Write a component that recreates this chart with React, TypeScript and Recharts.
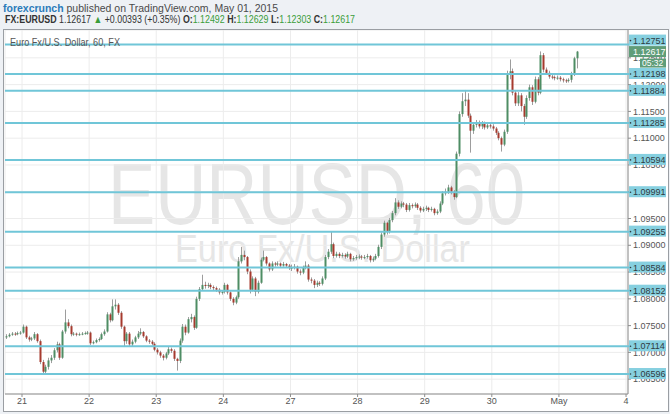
import React from 'react'
import { ComposedChart, Bar, XAxis, YAxis, CartesianGrid, ReferenceLine } from 'recharts'

// EUR/USD hourly candles, Apr 20 (last hours) .. May 1, 2015
const firstOpen = 1.0728

const closes = [
  // Apr 20
  1.0730, 1.0733, 1.0735, 1.0734, 1.0736, 1.0737,
  // Apr 21
  1.0748, 1.0728, 1.0724, 1.0726, 1.0734, 1.0721, 1.0682, 1.0664, 1.0673, 1.0685, 1.0690, 1.0704,
  1.0715, 1.0690, 1.0739, 1.0756, 1.0749, 1.0734, 1.0735, 1.0733, 1.0734, 1.0735, 1.0736, 1.0737,
  // Apr 22
  1.0717, 1.0719, 1.0723, 1.0725, 1.0734, 1.0739, 1.0771, 1.0760, 1.0786, 1.0789, 1.0774, 1.0748,
  1.0721, 1.0735, 1.0715, 1.0720, 1.0728, 1.0735, 1.0738, 1.0730, 1.0722, 1.0720, 1.0716, 1.0705,
  // Apr 23
  1.0700, 1.0694, 1.0690, 1.0698, 1.0706, 1.0703, 1.0688, 1.0684, 1.0722, 1.0748, 1.0737, 1.0762,
  1.0766, 1.0746, 1.0800, 1.0818, 1.0826, 1.0824, 1.0826, 1.0822, 1.0820, 1.0817, 1.0812, 1.0813,
  // Apr 24
  1.0826, 1.0812, 1.0800, 1.0793, 1.0803, 1.0870, 1.0882, 1.0878, 1.0851, 1.0817, 1.0838, 1.0813,
  1.0830, 1.0873, 1.0878, 1.0866, 1.0855, 1.0866, 1.0864, 1.0866, 1.0862, 1.0865, 1.0862, 1.0858,
  // Apr 27
  1.0858, 1.0860, 1.0851, 1.0849, 1.0858, 1.0862, 1.0836, 1.0834, 1.0826, 1.0830, 1.0828, 1.0838,
  1.0878, 1.0888, 1.0902, 1.0880, 1.0884, 1.0880, 1.0882, 1.0879, 1.0884, 1.0874, 1.0876, 1.0878,
  // Apr 28
  1.0879, 1.0877, 1.0878, 1.0880, 1.0872, 1.0875, 1.0880, 1.0897, 1.0920, 1.0942, 1.0925, 1.0947,
  1.0960, 1.0980, 1.0972, 1.0978, 1.0976, 1.0966, 1.0975, 1.0973, 1.0976, 1.0970, 1.0965, 1.0968,
  // Apr 29
  1.0970, 1.0966, 1.0968, 1.0960, 1.0963, 1.0978, 1.0997, 1.1000, 1.1008, 1.1000, 1.0990, 1.1071,
  1.1145, 1.1169, 1.1172, 1.1142, 1.1114, 1.1125, 1.1130, 1.1122, 1.1128, 1.1120, 1.1124, 1.1122,
  // Apr 30
  1.1118, 1.1110, 1.1100, 1.1088, 1.1112, 1.1218, 1.1225, 1.1185, 1.1165, 1.1180, 1.1160, 1.1140,
  1.1175, 1.1195, 1.1168, 1.1210, 1.1185, 1.1255, 1.1228, 1.1222, 1.1215, 1.1214, 1.1212, 1.1213,
  // May 1
  1.1210, 1.1208, 1.1207, 1.1209, 1.1220, 1.12492, 1.12617,
]

const highs = [
  1.0734, 1.0736, 1.0738, 1.0738, 1.0739, 1.0740,
  1.0752, 1.0750, 1.0731, 1.0729, 1.0738, 1.0736, 1.0724, 1.0686, 1.0677, 1.0690, 1.0695, 1.0708,
  1.0720, 1.0718, 1.0742, 1.0780, 1.0762, 1.0752, 1.0738, 1.0737, 1.0737, 1.0738, 1.0739, 1.0740,
  1.0739, 1.0722, 1.0726, 1.0728, 1.0737, 1.0743, 1.0775, 1.0774, 1.0799, 1.0799, 1.0792, 1.0777,
  1.0750, 1.0738, 1.0738, 1.0724, 1.0731, 1.0740, 1.0745, 1.0740, 1.0732, 1.0725, 1.0723, 1.0719,
  1.0708, 1.0703, 1.0697, 1.0701, 1.0710, 1.0709, 1.0706, 1.0690, 1.0726, 1.0753, 1.0752, 1.0766,
  1.0772, 1.0769, 1.0804, 1.0822, 1.0845, 1.0832, 1.0830, 1.0829, 1.0825, 1.0823, 1.0820, 1.0816,
  1.0830, 1.0828, 1.0814, 1.0803, 1.0806, 1.0878, 1.0897, 1.0890, 1.0880, 1.0855, 1.0842, 1.0841,
  1.0834, 1.0877, 1.0890, 1.0880, 1.0868, 1.0870, 1.0869, 1.0870, 1.0868, 1.0869, 1.0867, 1.0865,
  1.0864, 1.0865, 1.0862, 1.0855, 1.0862, 1.0870, 1.0865, 1.0840, 1.0837, 1.0834, 1.0833, 1.0842,
  1.0882, 1.0893, 1.0925, 1.0905, 1.0888, 1.0887, 1.0886, 1.0885, 1.0888, 1.0886, 1.0880, 1.0882,
  1.0883, 1.0882, 1.0882, 1.0884, 1.0882, 1.0879, 1.0884, 1.0901, 1.0924, 1.0946, 1.0944, 1.0951,
  1.0964, 1.0988, 1.0984, 1.0982, 1.0981, 1.0979, 1.0979, 1.0978, 1.0980, 1.0979, 1.0973, 1.0972,
  1.0974, 1.0972, 1.0972, 1.0970, 1.0967, 1.0982, 1.1001, 1.1006, 1.1013, 1.1011, 1.1003, 1.1075,
  1.1150, 1.1184, 1.1190, 1.1184, 1.1146, 1.1129, 1.1134, 1.1133, 1.1132, 1.1131, 1.1128, 1.1127,
  1.1126, 1.1121, 1.1113, 1.1103, 1.1116, 1.1226, 1.1247, 1.1230, 1.1190, 1.1186, 1.1184, 1.1164,
  1.1180, 1.1200, 1.1199, 1.1215, 1.1214, 1.1262, 1.1259, 1.1232, 1.1226, 1.1219, 1.1217, 1.1217,
  1.1216, 1.1213, 1.1211, 1.1212, 1.1224, 1.1252, 1.12629,
]

const lows = [
  1.0725, 1.0728, 1.0731, 1.0731, 1.0732, 1.0733,
  1.0735, 1.0725, 1.0720, 1.0721, 1.0723, 1.0718, 1.0678, 1.0660, 1.0661, 1.0668, 1.0680, 1.0686,
  1.0700, 1.0686, 1.0688, 1.0735, 1.0745, 1.0730, 1.0731, 1.0730, 1.0731, 1.0732, 1.0733, 1.0733,
  1.0714, 1.0715, 1.0717, 1.0720, 1.0723, 1.0731, 1.0737, 1.0756, 1.0758, 1.0780, 1.0770, 1.0744,
  1.0710, 1.0716, 1.0710, 1.0712, 1.0717, 1.0725, 1.0732, 1.0727, 1.0719, 1.0716, 1.0713, 1.0702,
  1.0696, 1.0690, 1.0685, 1.0687, 1.0695, 1.0699, 1.0684, 1.0666, 1.0680, 1.0718, 1.0732, 1.0735,
  1.0756, 1.0742, 1.0744, 1.0796, 1.0815, 1.0819, 1.0820, 1.0818, 1.0816, 1.0813, 1.0808, 1.0808,
  1.0810, 1.0808, 1.0796, 1.0788, 1.0790, 1.0800, 1.0866, 1.0872, 1.0846, 1.0810, 1.0814, 1.0805,
  1.0810, 1.0828, 1.0870, 1.0862, 1.0851, 1.0852, 1.0860, 1.0861, 1.0859, 1.0860, 1.0858, 1.0854,
  1.0852, 1.0855, 1.0847, 1.0844, 1.0846, 1.0855, 1.0832, 1.0829, 1.0820, 1.0822, 1.0824, 1.0825,
  1.0835, 1.0874, 1.0884, 1.0876, 1.0877, 1.0876, 1.0877, 1.0875, 1.0876, 1.0870, 1.0871, 1.0873,
  1.0874, 1.0873, 1.0874, 1.0875, 1.0868, 1.0869, 1.0872, 1.0877, 1.0893, 1.0916, 1.0920, 1.0922,
  1.0943, 1.0956, 1.0968, 1.0969, 1.0971, 1.0962, 1.0963, 1.0969, 1.0970, 1.0966, 1.0961, 1.0962,
  1.0964, 1.0962, 1.0963, 1.0956, 1.0957, 1.0960, 1.0975, 1.0993, 1.0996, 1.0995, 1.0985, 1.0988,
  1.1066, 1.1140, 1.1160, 1.1138, 1.1073, 1.1108, 1.1120, 1.1118, 1.1117, 1.1116, 1.1117, 1.1118,
  1.1114, 1.1106, 1.1096, 1.1075, 1.1085, 1.1108, 1.1210, 1.1180, 1.1160, 1.1160, 1.1150, 1.1125,
  1.1136, 1.1170, 1.1162, 1.1165, 1.1180, 1.1182, 1.1223, 1.1218, 1.1211, 1.1210, 1.1208, 1.1209,
  1.1206, 1.1204, 1.1203, 1.1204, 1.1204, 1.1216, 1.12303,
]

// day boundaries (candle index of midnight) and their labels
const dayTicks = [5.5, 29.5, 53.5, 77.5, 101.5, 125.5, 149.5, 173.5, 197.5, 221.5]
const dayLabels = ['21', '22', '23', '24', '27', '28', '29', '30', 'May', '4']

const priceTicks = [1.065, 1.07, 1.075, 1.08, 1.085, 1.09, 1.095, 1.1, 1.105, 1.11, 1.115, 1.12, 1.125]

// horizontal support / resistance levels drawn on the chart
const levels = [1.12751, 1.12198, 1.11884, 1.11285, 1.10594, 1.09991, 1.09255, 1.08584, 1.08152, 1.07114, 1.06596]

const lastPrice = 1.12617
const countdown = '05:32'

const X_DOMAIN = [-0.58, 222.2]
const Y_DOMAIN = [1.06223, 1.1302]
const PLOT_H = 364
const PX_PER_UNIT = PLOT_H / (Y_DOMAIN[1] - Y_DOMAIN[0])
const TAG_H = 12

const UP = '#4e8d64'
const DOWN = '#a63a2e'
const WICK = '#9d9d9d'
const LEVEL = '#70c6d8'
const LEVEL_BOX = '#86d0e0'
const PRICE_BOX = '#5f9d79'
const FONT = '"Liberation Sans", Arial, sans-serif'

const candles = closes.map((c, i) => ({
  i,
  o: i === 0 ? firstOpen : closes[i - 1],
  h: highs[i],
  l: lows[i],
  c,
  range: [lows[i], highs[i]],
}))

function Candle(props: any) {
  const { x, y, width, height, payload } = props
  if (!payload || x == null) return null
  const { o, h, l, c } = payload
  const top = Math.min(y, y + height)
  const hgt = Math.abs(height)
  const span = h - l || 1e-9
  const py = (v: number) => top + ((h - v) / span) * hgt
  const bTop = py(Math.max(o, c))
  const bBot = py(Math.min(o, c))
  const cx = Math.round(x + width / 2) + 0.5
  return (
    <g>
      <line x1={cx} x2={cx} y1={top} y2={top + hgt} stroke={WICK} strokeWidth={1} />
      <rect
        x={cx - 1}
        y={bTop}
        width={2}
        height={Math.max(bBot - bTop, 1)}
        fill={c >= o ? UP : DOWN}
      />
    </g>
  )
}

function LevelShape(props: any) {
  const { x1, x2, y1, value } = props
  if (x1 == null || y1 == null) return null
  const left = Math.min(x1, x2)
  const right = Math.max(x1, x2)
  // push the tag up when it would sit on the live price tag
  const dy = (value - lastPrice) * PX_PER_UNIT
  const tagY = dy > 0 && dy < TAG_H - 1 ? y1 - (TAG_H - 1 - dy) : y1
  return (
    <g>
      <line x1={left} x2={right + 2} y1={y1} y2={y1} stroke={LEVEL} strokeWidth={2} />
      <rect x={right + 1} y={tagY - TAG_H / 2} width={37} height={TAG_H - 1} fill={LEVEL_BOX} />
      <circle cx={right + 2.5} cy={tagY} r={0.8} fill="#2f3b40" />
      <text x={right + 5} y={tagY + 3} fontSize={9} fill="#2f3b40" fontFamily={FONT}>
        {value.toFixed(5)}
      </text>
    </g>
  )
}

function PriceShape(props: any) {
  const { x1, x2, y1 } = props
  if (x1 == null || y1 == null) return null
  const right = Math.max(x1, x2)
  return (
    <g>
      <rect x={right + 1} y={y1 - 5.5} width={37} height={11} fill={PRICE_BOX} />
      <text x={right + 5} y={y1 + 3} fontSize={9} fill="#ffffff" fontFamily={FONT}>
        {lastPrice.toFixed(5)}
      </text>
      <rect x={right + 12} y={y1 + 7} width={26} height={9} fill={PRICE_BOX} />
      <text x={right + 14} y={y1 + 14.5} fontSize={8.5} fill="#ffffff" fontFamily={FONT}>
        {countdown}
      </text>
    </g>
  )
}

const chartBox = { width: 664, height: 380, margin: { top: 0, right: 0, bottom: 0, left: 1 } }

export default function App() {
  return (
    <div
      style={{
        position: 'absolute',
        left: 0,
        top: 0,
        width: 670,
        height: 414,
        background: '#eef1f5',
        overflow: 'hidden',
        fontFamily: FONT,
      }}
    >
      <svg width={670} height={30} style={{ position: 'absolute', left: 0, top: 0 }}>
        <text x={3} y={12} fontSize={11} textLength={275} lengthAdjust="spacingAndGlyphs">
          <tspan fill="#2b7bba" fontWeight="bold">forexcrunch</tspan>
          <tspan fill="#4a4a4a"> published on TradingView.com, May 01, 2015</tspan>
        </text>
        <text x={5} y={23} fontSize={10.5} textLength={350} lengthAdjust="spacingAndGlyphs" fill="#333">
          <tspan fontWeight="bold">FX:EURUSD</tspan>
          <tspan> 1.12617 </tspan>
          <tspan fill="#3a9d3a">▲</tspan>
          <tspan> +0.00393 (+0.35%) </tspan>
          <tspan fontWeight="bold">O:</tspan>
          <tspan fill="#3a9d3a">1.12492 </tspan>
          <tspan fontWeight="bold">H:</tspan>
          <tspan fill="#3a9d3a">1.12629 </tspan>
          <tspan fontWeight="bold">L:</tspan>
          <tspan fill="#3a9d3a">1.12303 </tspan>
          <tspan fontWeight="bold">C:</tspan>
          <tspan fill="#3a9d3a">1.12617</tspan>
        </text>
      </svg>

      <div
        style={{
          position: 'absolute',
          left: 3,
          top: 29,
          width: 664,
          height: 381,
          background: '#ffffff',
          border: '1px solid #9a9ea3',
        }}
      />

      <svg width={670} height={414} style={{ position: 'absolute', left: 0, top: 0 }}>
        <text x={108} y={224} fontSize={88} fill="#e6e6e6" textLength={417} lengthAdjust="spacingAndGlyphs">
          EURUSD, 60
        </text>
        <text x={175} y={262} fontSize={38} fill="#e6e6e6" textLength={295} lengthAdjust="spacingAndGlyphs">
          Euro Fx/U.S. Dollar
        </text>
      </svg>

      {/* price chart: grid, axes, candles */}
      <div style={{ position: 'absolute', left: 4, top: 30 }}>
        <ComposedChart {...chartBox} data={candles}>
          <CartesianGrid stroke="#ececec" />
          <XAxis
            dataKey="i"
            type="number"
            domain={X_DOMAIN}
            ticks={dayTicks}
            interval={0}
            allowDataOverflow
            height={16}
            tickFormatter={(v: number) => dayLabels[dayTicks.indexOf(v)] ?? ''}
            tick={{ fontSize: 9, fill: '#555' }}
            tickSize={3}
            tickMargin={1}
            axisLine={{ stroke: '#8d8d8d' }}
            tickLine={{ stroke: '#8d8d8d' }}
          />
          <YAxis
            orientation="right"
            type="number"
            domain={Y_DOMAIN}
            ticks={priceTicks}
            interval={0}
            allowDataOverflow
            width={40}
            tickFormatter={(v: number) => v.toFixed(5)}
            tick={{ fontSize: 9, fill: '#555', textAnchor: 'start' }}
            tickSize={3}
            tickMargin={2}
            axisLine={{ stroke: '#8d8d8d' }}
            tickLine={{ stroke: '#8d8d8d' }}
          />
          <Bar dataKey="range" barSize={2} shape={Candle} isAnimationActive={false} />
        </ComposedChart>
      </div>

      {/* level lines and price tags, same scales, drawn above the axis labels */}
      <div style={{ position: 'absolute', left: 4, top: 30, pointerEvents: 'none' }}>
        <ComposedChart {...chartBox} data={candles}>
          <XAxis
            dataKey="i"
            type="number"
            domain={X_DOMAIN}
            allowDataOverflow
            height={16}
            tick={false}
            axisLine={false}
            tickLine={false}
          />
          <YAxis
            orientation="right"
            type="number"
            domain={Y_DOMAIN}
            allowDataOverflow
            width={40}
            tick={false}
            axisLine={false}
            tickLine={false}
          />
          {levels.map((lv) => (
            <ReferenceLine
              key={lv}
              y={lv}
              ifOverflow="visible"
              shape={(p: any) => <LevelShape {...p} value={lv} />}
            />
          ))}
          <ReferenceLine y={lastPrice} ifOverflow="visible" shape={(p: any) => <PriceShape {...p} />} />
        </ComposedChart>
      </div>

      <svg width={670} height={60} style={{ position: 'absolute', left: 0, top: 0, pointerEvents: 'none' }}>
        <text x={10} y={46} fontSize={10} fill="#555" textLength={110} lengthAdjust="spacingAndGlyphs">
          Euro Fx/U.S. Dollar, 60, FX
        </text>
      </svg>
    </div>
  )
}
